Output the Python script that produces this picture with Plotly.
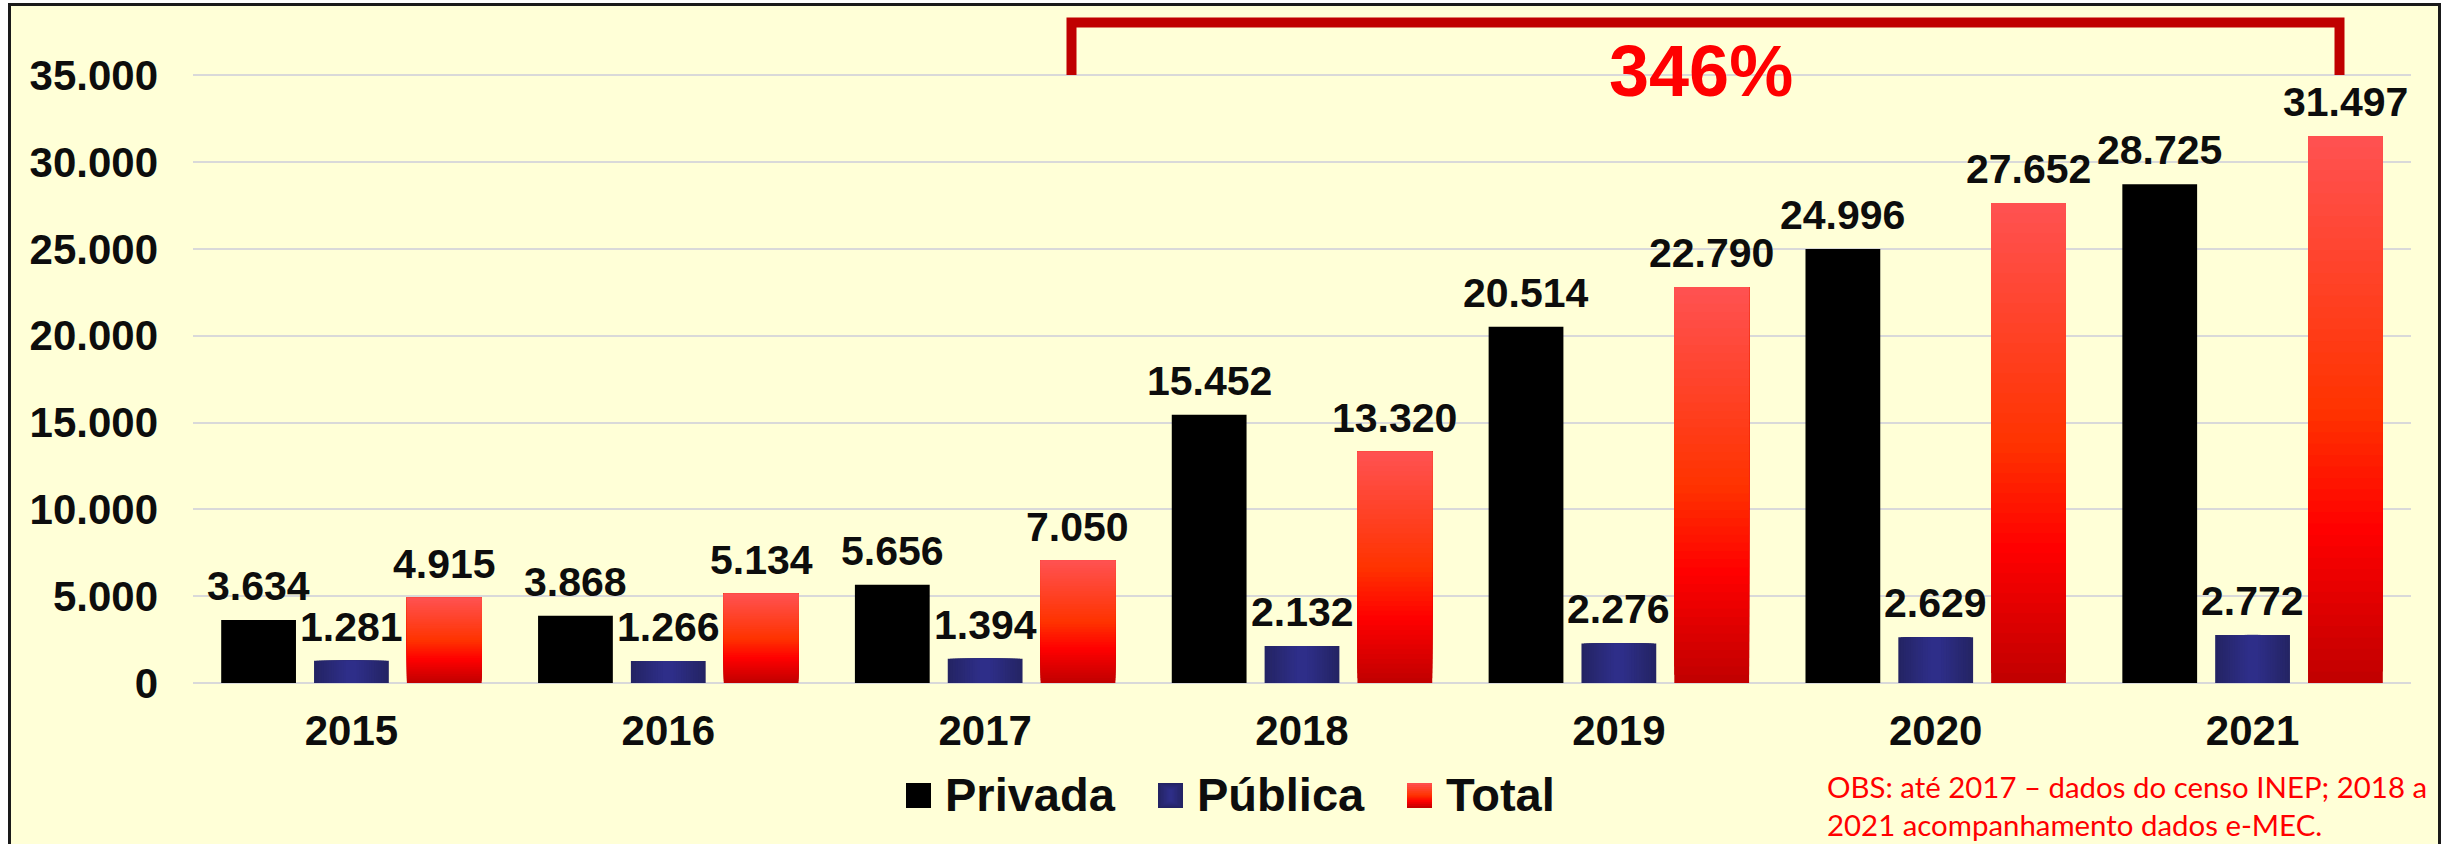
import plotly.graph_objects as go

# ---- data -------------------------------------------------------------
years = ["2015", "2016", "2017", "2018", "2019", "2020", "2021"]
privada = [3634, 3868, 5656, 15452, 20514, 24996, 28725]
publica = [1281, 1266, 1394, 2132, 2276, 2629, 2772]
total = [4915, 5134, 7050, 13320, 22790, 27652, 31497]
y_ticks = [0, 5000, 10000, 15000, 20000, 25000, 30000, 35000]
growth_label = "346%"
note_lines = ["OBS: até 2017 – dados do censo INEP; 2018 a",
              "2021 acompanhamento dados e-MEC."]

# ---- page geometry ----------------------------------------------------
W, H = 2447, 844
L, R, T, B = 193, 36, 58, 161
PW, PH = W - L - R, H - T - B


def px(x):
    """pixel column -> paper x"""
    return (x - L) / PW


def py(y):
    """pixel row -> paper y"""
    return (H - B - y) / PH


def fmt(v):
    return f"{v:,}".replace(",", ".")


def lerp(stops, t):
    for (t0, c0), (t1, c1) in zip(stops, stops[1:]):
        if t0 <= t <= t1:
            f = (t - t0) / (t1 - t0) if t1 > t0 else 0
            c = [round(a + (b - a) * f) for a, b in zip(c0, c1)]
            return f"rgb({c[0]},{c[1]},{c[2]})"
    c = stops[-1][1]
    return f"rgb({c[0]},{c[1]},{c[2]})"


RED_STOPS = [(0.0, (192, 0, 0)), (0.28, (255, 0, 0)),
             (0.5, (255, 51, 0)), (1.0, (255, 82, 82))]
BLUE_STOPS = [(0.0, (36, 36, 100)), (1.0, (47, 47, 140))]

FONT = "Liberation Sans, Arial, sans-serif"
INK = "#0d0d0d"

BAR_W = 0.236
GAP = 0.057
OFF_PRIV = -1.5 * BAR_W - GAP
OFF_PUB = -0.5 * BAR_W
OFF_TOT = 0.5 * BAR_W + GAP
xs = list(range(len(years)))

fig = go.Figure()

# Privada: solid black
fig.add_trace(go.Bar(x=xs, y=privada, width=BAR_W, offset=OFF_PRIV,
                     name="Privada", marker=dict(color="black", line_width=0)))

# Pública: navy with lighter centre (nested narrowing bars)
M = 14
for j in range(M):
    frac = j / M
    w = BAR_W * (1 - frac * 0.92)
    fig.add_trace(go.Bar(
        x=xs, y=publica, width=w, offset=OFF_PUB + (BAR_W - w) / 2,
        name="Pública", showlegend=False,
        hoverinfo="skip" if j else None,
        marker=dict(color=lerp(BLUE_STOPS, frac), line_width=0)))

# Total: vertical red gradient, each band running to the bar's top
N = 48
for k in range(N):
    frac = k / N
    fig.add_trace(go.Bar(
        x=xs, y=[v * (1 - frac) for v in total],
        base=[v * frac for v in total],
        width=BAR_W, offset=OFF_TOT, name="Total", showlegend=False,
        hoverinfo="skip" if k else None,
        marker=dict(color=lerp(RED_STOPS, (k + 0.5) / N), line_width=0)))

annotations = []
# value labels above every bar
for vals, off in ((privada, OFF_PRIV), (publica, OFF_PUB), (total, OFF_TOT)):
    for i, v in enumerate(vals):
        annotations.append(dict(
            x=i + off + BAR_W / 2, y=v, xref="x", yref="y", text=fmt(v),
            showarrow=False, yanchor="bottom", xanchor="center", yshift=9,
            font=dict(family=FONT, size=41, color=INK, weight="bold")))

# growth label under the bracket
annotations.append(dict(
    x=px(1701), y=py(71), xref="paper", yref="paper", text=growth_label,
    showarrow=False, xanchor="center", yanchor="middle",
    font=dict(family=FONT, size=72, color="#ff0000", weight="bold")))

# legend (drawn by hand so the swatches match the bar fills)
legend_items = [("Privada", 906), ("Pública", 1158), ("Total", 1407)]
SW = 25
LEG_Y0, LEG_Y1 = 783, 808
shapes = []
for name, x0 in legend_items:
    annotations.append(dict(
        x=px(x0 + SW + 12), y=py(794), xref="paper", yref="paper", text=name,
        showarrow=False, xanchor="left", yanchor="middle",
        font=dict(family=FONT, size=47, color=INK, weight="bold")))

# Privada swatch
shapes.append(dict(type="rect", xref="paper", yref="paper",
                   x0=px(906), x1=px(906 + SW), y0=py(LEG_Y1), y1=py(LEG_Y0),
                   fillcolor="black", line_width=0))
# Pública swatch
for j in range(8):
    inset = j * 1.5
    shapes.append(dict(type="rect", xref="paper", yref="paper",
                       x0=px(1158 + inset), x1=px(1158 + SW - inset),
                       y0=py(LEG_Y1 - inset * 0.6), y1=py(LEG_Y0 + inset * 0.6),
                       fillcolor=lerp(BLUE_STOPS, j / 8), line_width=0))
# Total swatch
steps = 12
for k in range(steps):
    yb = LEG_Y1 - (LEG_Y1 - LEG_Y0) * k / steps
    shapes.append(dict(type="rect", xref="paper", yref="paper",
                       x0=px(1407), x1=px(1407 + SW), y0=py(yb), y1=py(LEG_Y0),
                       fillcolor=lerp(RED_STOPS, (k + 0.5) / steps),
                       line_width=0))

# footnote
for line, ymid in zip(note_lines, (787, 824)):
    annotations.append(dict(
        x=px(1825), y=py(ymid), xref="paper", yref="paper", text=line,
        showarrow=False, xanchor="left", yanchor="middle",
        font=dict(family="Lato, Carlito, sans-serif", size=29.4, color="#ff0000")))

# framed light-yellow panel
shapes.insert(0, dict(type="rect", xref="paper", yref="paper", layer="below",
                      x0=px(9.5), x1=px(2439.5), y0=py(870), y1=py(4.5),
                      fillcolor="#ffffd7", line=dict(color="#1a1a1a", width=3)))

# bracket from 2017 to 2021 totals
bx0, bx1, by_top, by_bot = 1071.5, 2339.5, 22.5, 75
shapes.append(dict(type="path", xref="paper", yref="paper",
                   path=(f"M {px(bx0)},{py(by_bot)} L {px(bx0)},{py(by_top)} "
                         f"L {px(bx1)},{py(by_top)} L {px(bx1)},{py(by_bot)}"),
                   line=dict(color="#c00000", width=10)))

fig.update_layout(
    width=W, height=H,
    margin=dict(l=L, r=R, t=T, b=B, pad=0),
    paper_bgcolor="white",
    plot_bgcolor="rgba(0,0,0,0)",
    barmode="overlay",
    separators=",.",
    showlegend=False,
    font=dict(family=FONT, color=INK),
    annotations=annotations,
    shapes=shapes,
    xaxis=dict(
        range=[-0.5, len(years) - 0.5], tickvals=xs, ticktext=years,
        showgrid=False, zeroline=False, showline=False, ticks="",
        ticklabelstandoff=19,
        tickfont=dict(family=FONT, size=42, color=INK, weight="bold")),
    yaxis=dict(
        range=[0, 36000], tickvals=y_ticks, tickformat=",d",
        showgrid=True, gridcolor="#d9d9d9", gridwidth=2,
        zeroline=True, zerolinecolor="#d9d9d9", zerolinewidth=2,
        showline=False, ticks="", ticklabelstandoff=34,
        tickfont=dict(family=FONT, size=42, color=INK, weight="bold")),
)

fig.write_html("out.html")
